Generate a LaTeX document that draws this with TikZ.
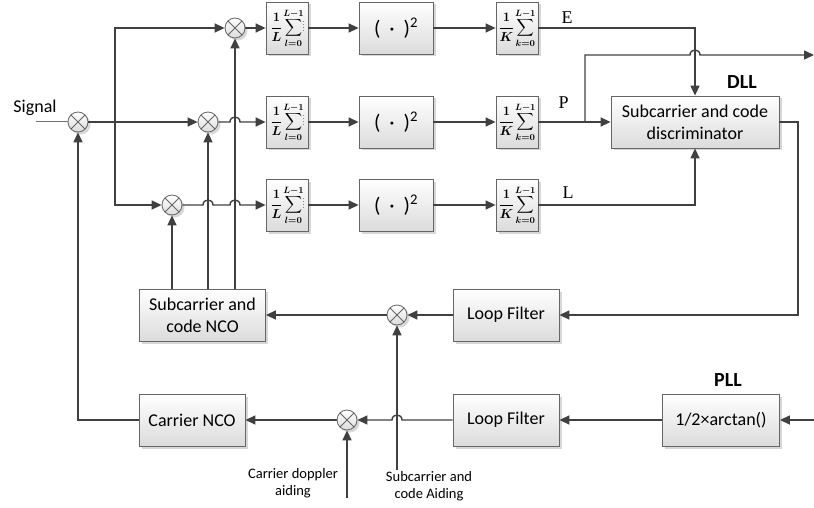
\documentclass[tikz,border=0pt]{standalone}
\usepackage{fix-cm}
\usepackage{exscale}
\usepackage{amsmath}
\usepackage[no-math]{fontspec}
\setmainfont{Carlito}
\newfontfamily\serifE{Liberation Serif}
\usetikzlibrary{arrows.meta,shadows,calc}
\tikzset{
 ln/.style={draw=black!75, line width=1.4pt},
 arr/.style={ln, -{Triangle[length=10pt,width=9pt]}},
 shd/.style={drop shadow={shadow xshift=2.5pt, shadow yshift=-2.5pt, fill=black!35, opacity=0.45}},
 blk/.style={shd, draw=black!60, line width=0.8pt, top color=white, bottom color=black!14, align=center, inner sep=0pt, font=\fontsize{18}{22}\selectfont},
 sumbox/.style={blk, minimum width=42pt, minimum height=52pt},
 sqbox/.style={blk, minimum width=74pt, minimum height=52pt},
 mix/.style={shd, circle, draw=black!60, line width=0.8pt, minimum size=20pt, inner sep=0pt, top color=white, bottom color=black!14,
   path picture={\draw[black!60,line width=0.8pt] (path picture bounding box.north west) -- (path picture bounding box.south east)
     (path picture bounding box.north east) -- (path picture bounding box.south west);}},
 lbl/.style={font=\fontsize{14.5}{17}\selectfont, align=center},
 ttl/.style={font=\bfseries\fontsize{20}{24}\selectfont},
 epl/.style={font=\serifE\fontsize{18}{20}\selectfont},
 art/.style={draw=orange!80!red, dotted, line width=0.9pt}
}
\newcommand{\sumL}{{\fontsize{13}{15}\selectfont$\displaystyle\boldsymbol{\frac{1}{L}}\mkern-2mu\sum_{\boldsymbol{l=0}}^{\boldsymbol{L-1}}$}}
\newcommand{\sumK}{{\fontsize{13}{15}\selectfont$\displaystyle\boldsymbol{\frac{1}{K}}\mkern-2mu\sum_{\boldsymbol{k=0}}^{\boldsymbol{L-1}}$}}
\newcommand{\sqr}{{\fontsize{21}{24}\selectfont(\hspace{9pt}·\hspace{9pt})\textsuperscript{2}}}
\begin{document}
\begin{tikzpicture}[x=1pt,y=-1pt]
\useasboundingbox (0,0) rectangle (814,508);
% mixers
\node[mix] (M0) at (78,122) {};
\node[mix] (ME) at (235,28) {};
\node[mix] (MP) at (208,122) {};
\node[mix] (ML) at (172,205) {};
\node[mix] (MD) at (397,315) {};
\node[mix] (MC) at (347,420) {};
% correlator boxes
\node[sumbox] (LE) at (287,28) {\sumL};
\node[sumbox] (LP) at (287,122) {\sumL};
\node[sumbox] (LL) at (287,205) {\sumL};
\node[sqbox] (SE) at (396,28) {\sqr};
\node[sqbox] (SP) at (396,122) {\sqr};
\node[sqbox] (SL) at (396,205) {\sqr};
\node[sumbox] (KE) at (517,28) {\sumK};
\node[sumbox] (KP) at (517,122) {\sumK};
\node[sumbox] (KL) at (517,205) {\sumK};
\draw[art] ($(LE.center)+(16,-7)$) -- ($(LE.center)+(16,3)$);
\draw[art] ($(LP.center)+(16,-7)$) -- ($(LP.center)+(16,3)$);
\draw[art] ($(LL.center)+(16,-7)$) -- ($(LL.center)+(16,3)$);
% loop boxes
\node[blk, minimum width=168pt, minimum height=52pt] (Disc) at (695,122) {Subcarrier and code\\discriminator};
\node[blk, minimum width=106pt, minimum height=52pt] (LF1) at (506,315) {Loop Filter};
\node[blk, minimum width=126pt, minimum height=52pt] (NCO1) at (202.5,315) {Subcarrier and\\code NCO};
\node[blk, minimum width=117pt, minimum height=52pt] (Arc) at (721,420) {1/2×arctan()};
\node[blk, minimum width=106pt, minimum height=52pt] (LF2) at (506,420) {Loop Filter};
\node[blk, minimum width=106pt, minimum height=52pt] (CN) at (192,420) {Carrier NCO};
% labels
\node[anchor=base, font=\fontsize{18}{22}\selectfont] (sig) at (35,113) {Signal};
\node[ttl] (dll) at (742,82) {DLL};
\node[ttl] (pll) at (728,380) {PLL};
\node[epl] (lE) at (567,17.5) {E};
\node[epl] (lP) at (563.5,102.5) {P};
\node[epl] (lL) at (568,192.5) {L};
\node[lbl] (dopl) at (293,483) {Carrier doppler\\aiding};
\node[lbl] (subl) at (429,486) {Subcarrier and\\code Aiding};
% coordinates
\coordinate (sin) at (36,122);
\coordinate (br) at (115,122);
\coordinate (pb) at (585,122);
\coordinate (pout) at (814,55);
\coordinate (pin) at (814,420);
\coordinate (dop) at (347,498);
\coordinate (sub) at (397,470);
% signal input
\draw[ln, line width=1pt, draw=black!55] (sin) -- (M0.west);
\draw[arr] (M0.east) -- (MP.west);
\draw[arr] (br) |- (ME.west);
\draw[arr] (br) |- (ML.west);
% early
\draw[arr] (ME.east) -- (LE.west);
\draw[arr] (LE.east) -- (SE.west);
\draw[arr] (SE.east) -- (KE.west);
\draw[arr] (KE.east) -| (Disc.north);
% prompt
\draw[arr] (MP.east) -- (230,122) .. controls (230,115.3) and (240,115.3) .. (240,122) -- (LP.west);
\draw[arr] (LP.east) -- (SP.west);
\draw[arr] (SP.east) -- (KP.west);
\draw[arr] (KP.east) -- (Disc.west);
\draw[arr] (pb) -- (585,55) -- (690,55) .. controls (690,48.3) and (700,48.3) .. (700,55) -- (pout);
% late
\draw[arr] (ML.east) -- (203,205) .. controls (203,198.3) and (213,198.3) .. (213,205) -- (230,205) .. controls (230,198.3) and (240,198.3) .. (240,205) -- (LL.west);
\draw[arr] (LL.east) -- (SL.west);
\draw[arr] (SL.east) -- (KL.west);
\draw[arr] (KL.east) -| (Disc.south);
% DLL loop
\draw[arr] (Disc.east) -- (798,122) |- (LF1.east);
\draw[arr] (LF1.west) -- (MD.east);
\draw[arr] (MD.west) -- (NCO1.east);
\draw[arr] (NCO1.north -| ML) -- (ML.south);
\draw[arr] (NCO1.north -| MP) -- (MP.south);
\draw[arr] (NCO1.north -| ME) -- (ME.south);
\draw[arr] (sub) -- (MD.south);
% PLL loop
\draw[arr] (pin) -- (Arc.east);
\draw[arr] (Arc.west) -- (LF2.east);
\draw[arr] (LF2.west) -- (402,420) .. controls (402,413.3) and (392,413.3) .. (392,420) -- (MC.east);
\draw[arr] (MC.west) -- (CN.east);
\draw[arr] (CN.west) -| (M0.south);
\draw[arr] (dop) -- (MC.south);
\end{tikzpicture}
\end{document}
